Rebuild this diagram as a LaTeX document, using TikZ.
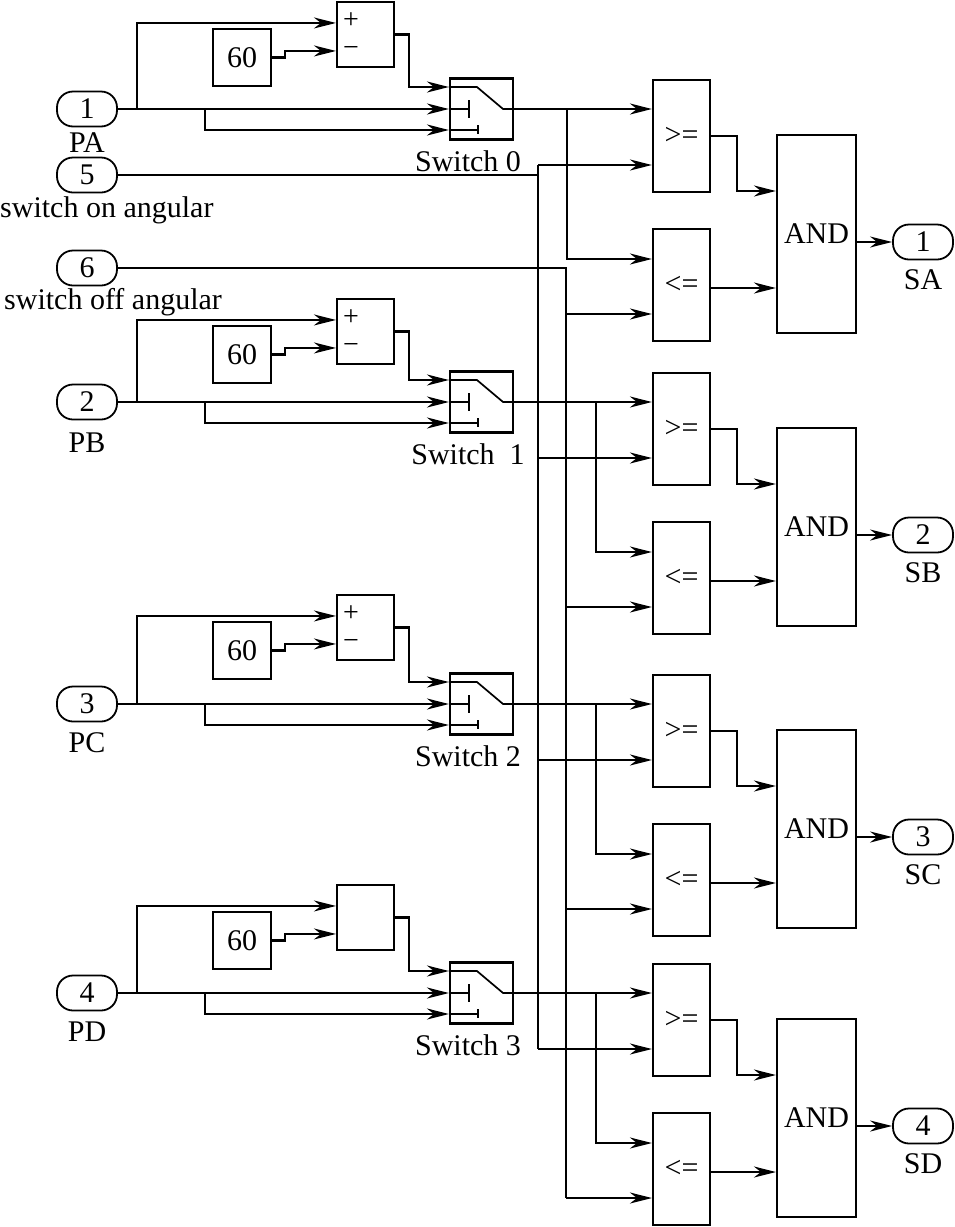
\documentclass[tikz,border=0pt]{standalone}
\usepackage{fontspec}
\setmainfont{Liberation Serif}
\usetikzlibrary{arrows.meta}

\begin{document}
\begin{tikzpicture}[x=1pt, y=-1pt,
    every node/.style={font=\fontsize{30}{36}\selectfont},
    blk/.style={draw, line width=2.1pt, minimum width=57pt, inner sep=0pt},
    port/.style={draw, line width=1.8pt, rounded corners=16pt,
                 minimum width=60pt, minimum height=35pt, inner sep=0pt},
    txt/.style={inner sep=0pt, anchor=base},
    sign/.style={inner sep=0pt, font=\fontsize{28}{28}\selectfont},
    wire/.style={line width=2.2pt},
    arr/.style={wire, -{Stealth[length=22pt, width=11pt, inset=7pt]}},
    icon/.style={line width=1.7pt}
]
\useasboundingbox (0,0) rectangle (955,1227);

% 开通角、关断角输入
\node[port] (in5) at (87,175) {5};
\node[txt, anchor=base west] (in5l) at (0,217) {switch on angular};
\node[port] (in6) at (87,268) {6};
\node[txt, anchor=base west] (in6l) at (4,309) {switch off angular};
\coordinate (bus5) at (538,0);
\coordinate (bus6) at (566,0);

\foreach \k/\sy/\ty/\pb/\pn/\pname/\swname/\bx/\oname in {
    0/109/2/152/1/PA/Switch 0/53/SA,
    1/402/299/452/2/PB/Switch\ \ 1/82/SB,
    2/704/595/752/3/PC/Switch 2/82/SC,
    3/993/885/1041/4/PD/Switch 3/82/SD}{
  % 位置输入
  \node[port] (in\k) at (87,\sy) {\pn};
  \node[txt] (inl\k) at (87,\pb) {\pname};
  \node[blk, minimum height=65pt] (sum\k) at (365.5,\ty+32.5) {};
  \node[blk, minimum width=58pt, minimum height=57pt] (c\k) at (242,\ty+55.5) {60};
  \node[blk, minimum width=63pt, minimum height=61pt] (sw\k) at (481.5,\sy) {};
  \node[txt] (swl\k) at (468,\sy+62) {\swname};
  \node[blk, minimum height=112pt] (ge\k) at (681.5,\sy+27) {>=};
  \node[blk, minimum height=112pt] (le\k) at (681.5,\sy+176) {<=};
  \node[blk, minimum width=79pt, minimum height=198pt] (and\k) at (816.5,\sy+125) {AND};
  \node[port] (out\k) at (923,\sy+133) {\pn};
  \node[txt] (outl\k) at (923,\sy+180) {\oname};
  \ifnum\k<3
    \node[sign] (plus\k) at ([xshift=15pt, yshift=-20pt]sum\k.north west) {+};
    \node[sign] (minus\k) at ([xshift=15pt, yshift=-51pt]sum\k.north west) {−};
  \fi

  \draw[arr] (in\k.east) -- (sw\k.west);
  \draw[arr] (in\k.east) ++(19,0) |- ([yshift=-22pt]sum\k.north west);
  \draw[arr] (in\k.east) ++(87,0) |- ([yshift=-21pt]sw\k.west);
  \draw[arr] (c\k.east) -- ++(13,0) |- ([yshift=-50pt]sum\k.north west);
  \draw[arr] (sum\k.east) -- ++(14,0) |- ([yshift=22pt]sw\k.west);

  % 开关符号
  \draw[icon] ([yshift=22pt]sw\k.west) -- ++(28,0) -- ([xshift=-11pt]sw\k.east) -- (sw\k.east);
  \draw[icon] (sw\k.west) -- ++(20,0) ++(0,-9) -- ++(0,18);
  \draw[icon] ([yshift=-21pt]sw\k.west) -- ++(29,0) ++(0,-5) -- ++(0,9);

  % 比较
  \coordinate (gin\k) at ([yshift=-29pt]ge\k.west);
  \coordinate (lin\k) at ([yshift=-29pt]le\k.west);
  \draw[arr] (sw\k.east) -- (ge\k.west |- sw\k.east);
  \draw[arr] ([xshift=\bx pt]sw\k.east) |- ([yshift=26pt]le\k.west);
  \draw[arr] (bus5 |- gin\k) -- (gin\k);
  \draw[arr] (bus6 |- lin\k) -- (lin\k);

  % 与门输出
  \draw[arr] (ge\k.east) -- ++(26,0) |- ([yshift=43pt]and\k.west);
  \draw[arr] ([yshift=-3pt]le\k.east) -- ([yshift=-54pt]and\k.west);
  \draw[arr] ([yshift=-8pt]and\k.east) -- (out\k.west);
}

% 公共总线
\draw[wire, line width=1.2pt] (bus5 |- gin0) -- (bus5 |- gin3);
\draw[wire] (in5.east) -- (in5.east -| bus5);
\draw[wire] (in6.east) -| (bus6 |- lin3);
\end{tikzpicture}
\end{document}
